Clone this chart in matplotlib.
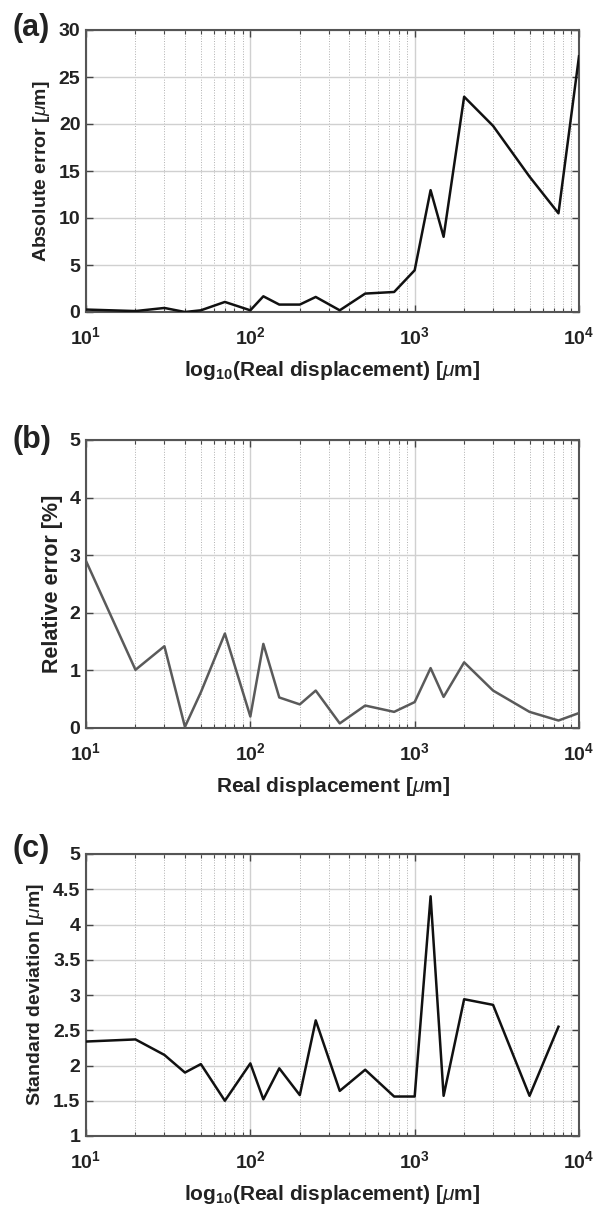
import matplotlib
matplotlib.use("Agg")
import matplotlib.pyplot as plt
from matplotlib.ticker import LogLocator, NullFormatter

plt.rcParams['font.family'] = ['Liberation Sans', 'DejaVu Sans']
plt.rcParams['mathtext.fontset'] = 'custom'
plt.rcParams['mathtext.rm'] = 'Liberation Sans:bold'
plt.rcParams['mathtext.bf'] = 'Liberation Sans:bold'
plt.rcParams['mathtext.it'] = 'Liberation Sans:italic'

# data
disp_a = [10, 20, 30, 40, 50, 70, 100, 120, 150, 200, 250, 350, 500, 750,
          1000, 1250, 1500, 2000, 3000, 5000, 7500, 10000]
abs_err = [0.26, 0.1, 0.43, 0.0, 0.18, 1.07, 0.18, 1.67, 0.79, 0.79, 1.6, 0.18,
           1.96, 2.13, 4.44, 12.96, 8.0, 22.9, 19.8, 14.4, 10.5, 27.2]

disp_b = [10, 20, 30, 40, 50, 70, 100, 120, 150, 200, 250, 350, 500, 750,
          1000, 1250, 1500, 2000, 3000, 5000, 7500, 10000]
rel_err = [2.9, 1.01, 1.42, 0.02, 0.62, 1.64, 0.2, 1.46, 0.53, 0.41, 0.65, 0.08,
           0.39, 0.28, 0.45, 1.04, 0.54, 1.14, 0.65, 0.28, 0.13, 0.26]

disp_c = [10, 20, 30, 40, 50, 70, 100, 120, 150, 200, 250, 350, 500, 750,
          1000, 1250, 1500, 2000, 3000, 5000, 7500]
std_dev = [2.34, 2.37, 2.15, 1.9, 2.02, 1.5, 2.03, 1.52, 1.96, 1.58, 2.64, 1.64,
           1.94, 1.56, 1.56, 4.4, 1.57, 2.94, 2.86, 1.57, 2.55]

xticks = [10, 100, 1000, 10000]
xticklabels = [r'$\mathbf{10^{1}}$', r'$\mathbf{10^{2}}$', r'$\mathbf{10^{3}}$', r'$\mathbf{10^{4}}$']

W, H = 593, 1211
fig = plt.figure(figsize=(W / 100, H / 100), dpi=100)

def ax_px(left, right, top, bottom):
    return fig.add_axes([left / W, 1 - bottom / H, (right - left) / W, (bottom - top) / H])

panels = [
    dict(box=(86, 579, 30, 312), x=disp_a, y=abs_err, color='#111111',
         ylim=(0, 30), yticks=[0, 5, 10, 15, 20, 25, 30],
         yticklabels=['0', '5', '10', '15', '20', '25', '30'],
         ylabel=r'Absolute error [$\mu$m]', ylsize=14,
         xlabel=r'log$_{\mathbf{10}}$(Real displacement) [$\mu$m]', letter='(a)', lety=28),
    dict(box=(86, 579, 440, 728), x=disp_b, y=rel_err, color='#5a5a5a',
         ylim=(0, 5), yticks=[0, 1, 2, 3, 4, 5],
         yticklabels=['0', '1', '2', '3', '4', '5'],
         ylabel='Relative error [%]', ylsize=15.5,
         xlabel=r'Real displacement [$\mu$m]', letter='(b)', lety=440),
    dict(box=(86, 579, 854, 1136), x=disp_c, y=std_dev, color='#111111',
         ylim=(1, 5), yticks=[1, 1.5, 2, 2.5, 3, 3.5, 4, 4.5, 5],
         yticklabels=['1', '1.5', '2', '2.5', '3', '3.5', '4', '4.5', '5'],
         ylabel=r'Standard deviation [$\mu$m]', ylsize=14,
         xlabel=r'log$_{\mathbf{10}}$(Real displacement) [$\mu$m]', letter='(c)', lety=849),
]

for p in panels:
    ax = ax_px(*p['box'])
    ax.plot(p['x'], p['y'], color=p['color'], lw=1.8, zorder=3)
    ax.set_xscale('log')
    ax.set_xlim(10, 10000)
    ax.set_ylim(*p['ylim'])
    ax.set_xticks(xticks)
    ax.set_xticklabels(xticklabels)
    ax.xaxis.set_minor_locator(LogLocator(base=10, subs=range(2, 10)))
    ax.xaxis.set_minor_formatter(NullFormatter())
    ax.set_yticks(p['yticks'])
    ax.set_yticklabels(p['yticklabels'], fontweight='bold')
    ax.tick_params(which='both', direction='in', top=True, right=True,
                   color='#444444', labelsize=14, labelcolor='#222222')
    ax.tick_params(which='major', length=5, width=1)
    ax.tick_params(which='minor', length=3, width=0.8)
    ax.tick_params(axis='x', pad=10)
    ax.tick_params(axis='y', pad=4)
    ax.grid(True, which='major', color='#d0d0d0', lw=1.0, ls='-', zorder=0)
    ax.grid(True, which='minor', axis='x', color='#b0b0b0', lw=0.7, ls=':', zorder=0)
    for s in ax.spines.values():
        s.set_color('#555555')
        s.set_linewidth(1.5)
    ax.set_ylabel(p['ylabel'], fontsize=p['ylsize'], fontweight='bold', color='#222222', labelpad=5)
    ax.set_xlabel(p['xlabel'], fontsize=15, fontweight='bold', color='#222222', labelpad=8)
    fig.text(12 / W, 1 - p['lety'] / H, p['letter'], fontsize=22, fontweight='bold',
             ha='left', va='center', color='#222222')

fig.savefig('out.png', dpi=100)
